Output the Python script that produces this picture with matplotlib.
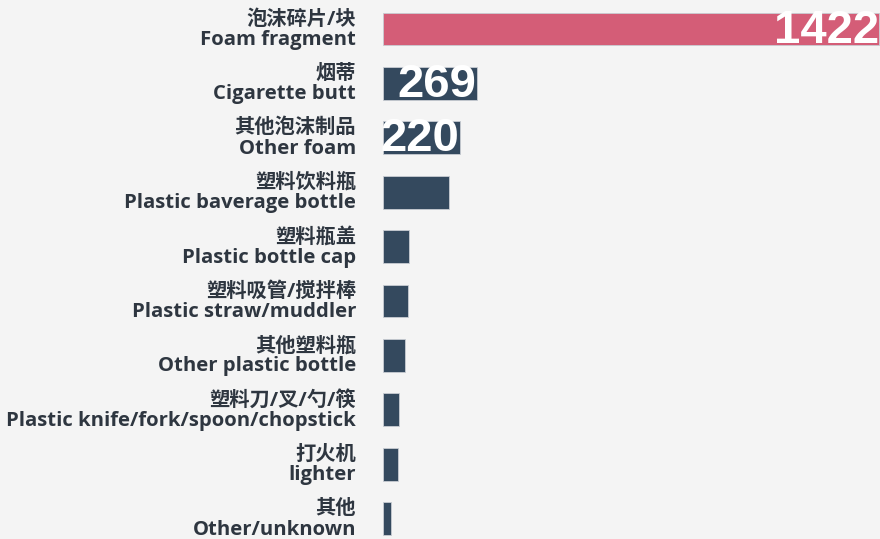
import matplotlib
matplotlib.use('Agg')
import matplotlib.pyplot as plt
import matplotlib.transforms as mtransforms

plt.rcParams['font.family'] = ['Open Sans', 'Noto Sans CJK SC', 'DejaVu Sans']

# data
names_cn = ['泡沫碎片/块', '烟蒂', '其他泡沫制品', '塑料饮料瓶', '塑料瓶盖',
            '塑料吸管/搅拌棒', '其他塑料瓶', '塑料刀/叉/勺/筷', '打火机', '其他']
names_en = ['Foam fragment', 'Cigarette butt', 'Other foam', 'Plastic baverage bottle',
            'Plastic bottle cap', 'Plastic straw/muddler', 'Other plastic bottle',
            'Plastic knife/fork/spoon/chopstick', 'lighter', 'Other/unknown']
counts = [1422, 269, 220, 189, 75, 73, 64, 45, 43, 24]
shown = [True, True, True, False, False, False, False, False, False, False]

bg = '#f4f4f4'
pink = '#d45d77'
navy = '#34495e'
text_col = '#2e3640'

fig = plt.figure(figsize=(8.8, 5.39), dpi=100, facecolor=bg)
ax = fig.add_axes([383 / 880, 0, 497 / 880, 1])
ax.set_facecolor(bg)

colors = [pink] + [navy] * (len(counts) - 1)
ypos = list(range(len(counts)))
bars = ax.barh(ypos, counts, height=0.6, color=colors, edgecolor='#c8ccd2', linewidth=0.6)

ax.set_xlim(0, 1422 * 497 / 496)
ax.set_ylim(9.375, -0.533)

# value labels, clipped to the bar
for b, v, s in zip(bars, counts, shown):
    if not s:
        continue
    t = ax.text(v - 1, b.get_y() + b.get_height() / 2 + 0.03, str(v), ha='right', va='center',
                color='white', fontsize=34, fontweight='bold',
                family=['Arial', 'Liberation Sans'])
    t.set_clip_path(b)

# category labels, Chinese above English, left of the axis
off = mtransforms.ScaledTranslation(-27 / 100, 0, fig.dpi_scale_trans)
for i in ypos:
    ax.text(0, i + 0.015, names_cn[i] + '\n' + names_en[i],
            transform=ax.transData + off, clip_on=False,
            ha='right', va='center', multialignment='right', fontsize=14.6,
            fontweight='bold', color=text_col, linespacing=1.02)

ax.set_xticks([])
ax.set_yticks([])
for sp in ax.spines.values():
    sp.set_visible(False)

fig.savefig('out.png', dpi=100, facecolor=bg)
